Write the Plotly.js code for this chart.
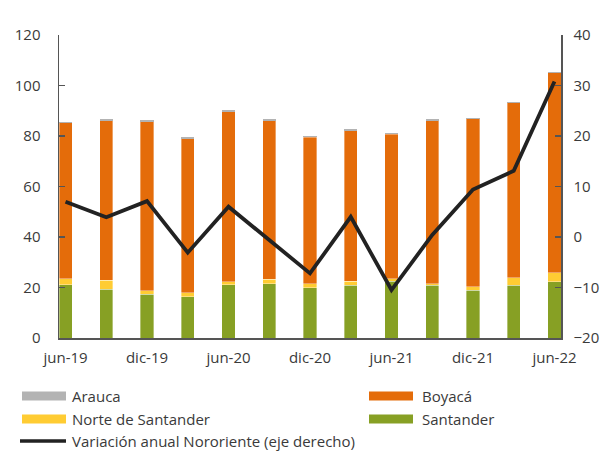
<!DOCTYPE html>
<html>
<head>
<meta charset="utf-8">
<script src="https://cdn.plot.ly/plotly-3.0.1.min.js"></script>
<style>html,body{margin:0;padding:0;background:#fff;}#chart{width:605px;height:451px;}</style>
</head>
<body>
<div id="chart"></div>
<script>
// Data
const categories = ['jun-19','sep-19','dic-19','mar-20','jun-20','sep-20','dic-20','mar-21','jun-21','sep-21','dic-21','mar-22','jun-22'];
const tickLabels = ['jun-19','dic-19','jun-20','dic-20','jun-21','dic-21','jun-22'];
const santander = [21.0, 19.4, 17.4, 16.4, 21.0, 21.5, 19.9, 20.9, 22.5, 20.9, 19.0, 20.9, 22.3];
const norteSantander = [2.4, 3.4, 1.3, 1.6, 1.3, 1.8, 1.5, 1.5, 1.0, 0.6, 1.3, 3.0, 3.6];
const boyaca = [61.8, 63.3, 67.0, 61.0, 67.4, 62.8, 58.2, 59.7, 57.1, 64.6, 66.5, 69.2, 79.1];
const arauca = [0.5, 0.5, 0.5, 0.5, 0.5, 0.5, 0.5, 0.5, 0.5, 0.5, 0.5, 0.5, 0.5];
const variacion = [7.0, 3.9, 7.1, -3.1, 6.0, -0.7, -7.2, 4.0, -10.5, 0.4, 9.4, 13.1, 30.8];

const idx = categories.map((c, i) => i);
const half = 0.16;
const tickIdx = tickLabels.map(t => categories.indexOf(t));

const colors = {arauca:'#B3B3B3', boyaca:'#E46C0A', norte:'#FFCC33', santander:'#87A024', line:'#222222'};
const barLine = {color:'rgba(255,255,255,0.6)', width:0.6};
const traces = [
  {type:'bar', name:'Santander', x:idx, y:santander, marker:{color:colors.santander, line:barLine}, width:2*half},
  {type:'bar', name:'Norte de Santander', x:idx, y:norteSantander, marker:{color:colors.norte, line:barLine}, width:2*half},
  {type:'bar', name:'Boyacá', x:idx, y:boyaca, marker:{color:colors.boyaca, line:barLine}, width:2*half},
  {type:'bar', name:'Arauca', x:idx, y:arauca, marker:{color:colors.arauca, line:{width:0}}, width:2*half},
  {type:'scatter', mode:'lines', name:'Variación anual Nororiente (eje derecho)', x:idx, y:variacion, yaxis:'y2',
   line:{color:colors.line, width:3.8}}
];

const font = {family:'"Open Sans", "Noto Sans", sans-serif', size:15, color:'#3a3a3a'};
const axisCol = '#555555';

// manual legend
const legendItems = [
  {text:'Arauca', color:colors.arauca, col:0, row:0, kind:'bar'},
  {text:'Boyacá', color:colors.boyaca, col:1, row:0, kind:'bar'},
  {text:'Norte de Santander', color:colors.norte, col:0, row:1, kind:'bar'},
  {text:'Santander', color:colors.santander, col:1, row:1, kind:'bar'},
  {text:'Variación anual Nororiente (eje derecho)', color:colors.line, col:0, row:2, kind:'line'}
];
const L = 59, R = 561, T = 35, B = 338;
const px = v => (v - L) / (R - L);
const py = v => (B - v) / (B - T);
const colX = [[22, 66, 70], [369, 413, 420]];
const rowY = [396, 419, 441];
const shapes = [], annotations = [];
legendItems.forEach(it => {
  const [x0, x1, tx] = colX[it.col];
  const yc = rowY[it.row];
  if (it.kind === 'bar') {
    shapes.push({type:'rect', xref:'paper', yref:'paper', x0:px(x0), x1:px(x1), y0:py(yc+4.5), y1:py(yc-4.5),
      fillcolor:it.color, line:{width:0}});
  } else {
    shapes.push({type:'line', xref:'paper', yref:'paper', x0:px(x0-2), x1:px(x1), y0:py(yc), y1:py(yc),
      line:{color:it.color, width:3.5}});
  }
  annotations.push({xref:'paper', yref:'paper', x:px(tx), y:py(yc), xanchor:'left', yanchor:'middle',
    text:it.text, showarrow:false, font:font});
});

const layout = {
  width:605, height:451,
  margin:{l:L, r:605-R, t:T, b:451-B},
  paper_bgcolor:'#fff', plot_bgcolor:'#fff',
  font:font,
  barmode:'stack',
  showlegend:false,
  xaxis:{range:[-half, categories.length-1+half], tickvals:tickIdx, ticktext:tickLabels,
    ticks:'', showgrid:false, zeroline:false, showline:true, linecolor:axisCol, linewidth:1.5,
    tickfont:font, ticklabelstandoff:5},
  xaxis2:{overlaying:'x', anchor:'y', range:[-half, categories.length-1+half],
    tickvals:tickIdx.map(i => i - half), ticks:'inside', ticklen:5, tickcolor:axisCol, tickwidth:1.5,
    showticklabels:false, showgrid:false, zeroline:false, showline:false},
  yaxis:{range:[0,120], dtick:20, ticks:'inside', ticklen:6, tickcolor:axisCol, tickwidth:1.5,
    showgrid:false, zeroline:false, showline:true, linecolor:axisCol, linewidth:1.5, tickfont:font,
    ticklabelstandoff:14},
  yaxis2:{overlaying:'y', side:'right', range:[-20,40], dtick:10, ticks:'inside', ticklen:6, tickcolor:axisCol,
    tickwidth:1.5, showgrid:false, zeroline:false, showline:true, linecolor:axisCol, linewidth:1.5,
    tickfont:font, ticklabelstandoff:8},
  shapes:shapes,
  annotations:annotations
};

Plotly.newPlot('chart', traces, layout, {staticPlot:true, displayModeBar:false});
</script>
</body>
</html>
